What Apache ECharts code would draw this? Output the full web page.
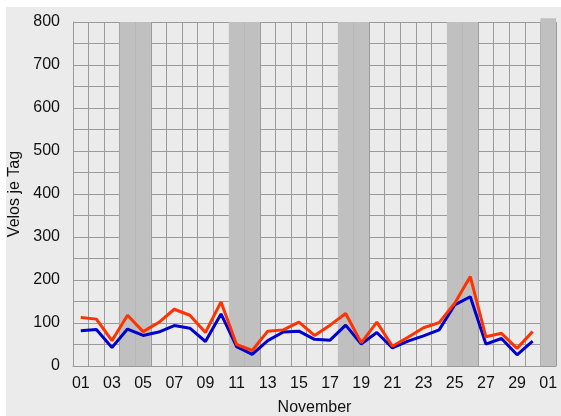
<!DOCTYPE html>
<html>
<head>
<meta charset="utf-8">
<script src="https://cdn.jsdelivr.net/npm/echarts@6/dist/echarts.min.js"></script>
<style>
html,body{margin:0;padding:0;background:#ffffff;}
#c{position:absolute;left:6px;top:7px;width:555px;height:409px;background:#ebebeb;}
</style>
</head>
<body>
<div id="c"></div>
<script>
// Tage im November (plus 01. Dezember)
const categories = ['01','02','03','04','05','06','07','08','09','10','11','12','13','14','15','16','17','18','19','20','21','22','23','24','25','26','27','28','29','30','01'];
// obere (rote) Linie
const redValues = [113,109,59,118,80,101,132,118,78,149,50,36,81,84,102,71,95,122,54,102,46,67,89,101,146,208,68,76,41,80];
// untere (blaue) Linie
const blueValues = [82,85,43,86,71,79,94,88,57,121,45,27,59,79,81,62,60,95,51,78,42,58,70,84,142,161,51,64,26,58];
// Wochenenden (Index der Kategorie)
const weekendIdx = [3,4,10,11,17,18,24,25];
const lastIdx = [30];
const yTicks = [0,100,200,300,400,500,600,700,800];

const bandData = categories.map((c, i) => {
  if (weekendIdx.includes(i)) return 800;
  if (lastIdx.includes(i)) return 809;
  return '-';
});

const chart = echarts.init(document.getElementById('c'), null, {renderer: 'canvas'});
const font = 'Liberation Sans, Arial, sans-serif';
chart.setOption({
  animation: false,
  backgroundColor: '#ebebeb',
  textStyle: {fontFamily: font},
  grid: {left: 67, top: 15, right: 5, bottom: 50, containLabel: false, outerBoundsMode: 'none'},
  xAxis: {
    type: 'category',
    data: categories,
    boundaryGap: true,
    name: 'November',
    nameLocation: 'middle',
    nameGap: 34,
    nameTextStyle: {fontSize: 16, color: '#111', fontFamily: font},
    axisLine: {show: true, lineStyle: {color: '#9a9a9a', width: 1}},
    axisTick: {show: false},
    axisLabel: {interval: 1, fontSize: 16, color: '#111', margin: 10, fontFamily: font},
    splitLine: {show: true, interval: 0, lineStyle: {color: '#9a9a9a', width: 1}}
  },
  yAxis: {
    type: 'value',
    min: 0,
    max: 800,
    interval: 50,
    name: 'Velos je Tag',
    nameLocation: 'middle',
    nameGap: 43,
    nameTextStyle: {fontSize: 16, color: '#111', fontFamily: font},
    axisLine: {show: true, lineStyle: {color: '#9a9a9a', width: 1}},
    axisTick: {show: false},
    axisLabel: {
      fontSize: 16, color: '#111', margin: 13, fontFamily: font,
      formatter: v => yTicks.includes(v) ? String(v) : ''
    },
    splitLine: {show: true, lineStyle: {color: '#9a9a9a', width: 1}}
  },
  series: [
    {
      type: 'bar',
      data: bandData,
      barCategoryGap: '0%',
      barWidth: '100%',
      silent: true,
      clip: false,
      itemStyle: {color: '#c0c0c0'},
      z: 1
    },
    {
      type: 'line',
      data: blueValues,
      symbol: 'none',
      lineStyle: {color: '#0000cc', width: 3},
      z: 3
    },
    {
      type: 'line',
      data: redValues,
      symbol: 'none',
      lineStyle: {color: '#ff3300', width: 3},
      z: 4
    }
  ]
});
</script>
</body>
</html>
